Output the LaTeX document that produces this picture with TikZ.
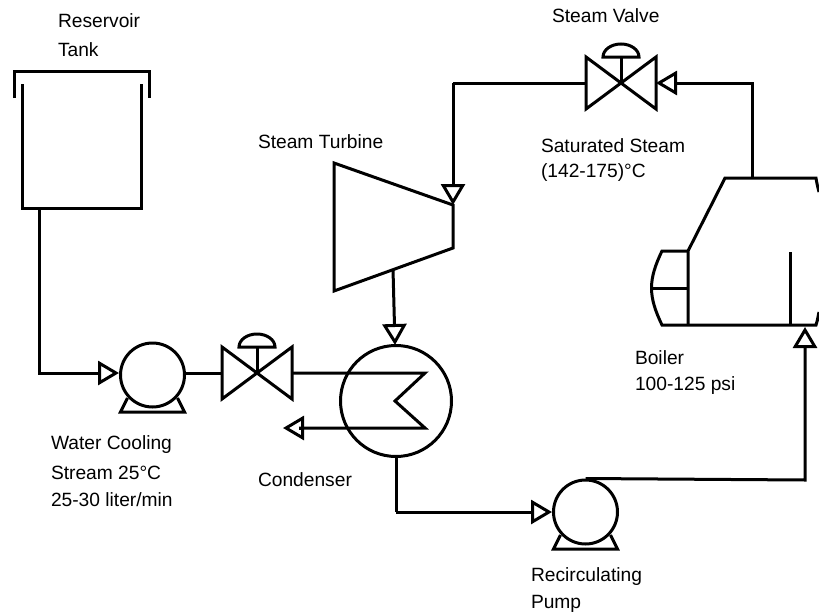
\documentclass[tikz,border=0pt]{standalone}
\usepackage{fontspec}
\setmainfont{Liberation Sans}
\usetikzlibrary{arrows.meta,positioning}
\tikzset{
    pics/valve/.style={code={
        \coordinate (-in) at (-35,0);
        \coordinate (-out) at (35,0);
        \draw (-in) -- ++(0,-26) -- (35,26) -- ++(0,-52) -- (-35,26) -- cycle;
        \draw (0,0) -- (0,-26);
        \draw (-18,-26) arc[start angle=180,end angle=360,x radius=18,y radius=13] -- cycle;
    }},
    pics/stand/.style={code={
        \draw (-25,25) -- (-32,39) -- (32,39) -- (25,25);
    }}
}

\begin{document}
\begin{tikzpicture}[x=1pt,y=-1pt,line width=3pt,line join=miter,
            flow/.style={-{Triangle[open,length=21pt,width=24pt,line width=3pt]}},
            pump/.style={circle,draw,minimum size=64pt,inner sep=0pt},
            condenser/.style={circle,draw,minimum size=111pt,inner sep=0pt},
            label/.style={anchor=west,inner sep=0pt,font=\fontsize{19.2}{19.2}\selectfont}]
            \useasboundingbox (0,0) rectangle (819,613);

            % Define the equipment as nodes
            \node[pump] (P1) at (152.5,375) {};
            \node[pump] (P2) at (585.5,512) {};
            \node[condenser] (C) at (396,401) {};
            \pic (V1) at (257,373) {valve};
            \pic (V2) at (621,83) {valve};
            \pic at (152.5,373) {stand};
            \pic at (585.5,510) {stand};

            % Reservoir tank
            \draw (22,84) -- (22,208) -- (141,208) -- (141,84);
            \draw (14,98) -- (14,71) -- (149,71) -- (149,98);
            \coordinate (T1) at (39,208);

            % Steam turbine
            \draw (334,163) -- (453,205) coordinate (S2) -- (453,248) -- (334,291) -- cycle;
            \coordinate (S3) at (393,269);

            % Boiler
            \draw (819,192) .. controls (817,184) .. (816,178) -- (725,178) -- (688,251) -- (688,325);
            \draw (688,251) -- (662,251) .. controls (648,280) and (648,296) .. (662,325)
                -- (816,325) .. controls (817,322) .. (819,312);
            \draw (653,288) -- (688,288);
            \draw (790,252) -- (790,325);
            \coordinate (B1) at (752,178);
            \coordinate (B2) at (805,327);

            % Connect the equipment with pipes
            \draw[flow] (T1) -- (39,373) -- (P1.west |- 0,373);
            \draw (P1.east |- 0,373) -- (V1-in);
            \draw (V1-out) -- (425,373) -- (395,401) -- (425,428) -- (299,428) coordinate (C1);
            \draw[flow] (C1) -- (283,428);
            \draw[flow] (S3) -- (395,345);
            \draw (C.south) -- (396,512) coordinate (C2);
            \draw[flow] (C2) -- (P2.west);
            \draw[flow] (P2.north) -- (805,480) -- (B2);
            \draw[flow] (B1) -- (752,83) -- (V2-out);
            \draw (V2-in) -- (453,83) coordinate (S4);
            \draw[flow] (S4) -- (S2);

            % Labels
            \node[label] (L1) at (56.5,21) {Reservoir};
            \node[label] (L2) at (56.5,50) {Tank};
            \node[label] (L3) at (550.5,16) {Steam Valve};
            \node[label] (L4) at (539.5,146) {Saturated Steam};
            \node[label] (L5) at (539.5,173) {(142-175)°C};
            \node[label] (L6) at (256.5,142) {Steam Turbine};
            \node[label] (L7) at (49.5,445) {Water Cooling};
            \node[label] (L8) at (49.5,473) {Stream 25°C};
            \node[label] (L9) at (49.5,500) {25-30 liter/min};
            \node[label] (L10) at (256.5,480) {Condenser};
            \node[label] (L11) at (633.5,358) {Boiler};
            \node[label] (L12) at (633.5,386) {100-125 psi};
            \node[label] (L13) at (529.5,577) {Recirculating};
            \node[label] (L14) at (529.5,604) {Pump};
\end{tikzpicture}
\end{document}
